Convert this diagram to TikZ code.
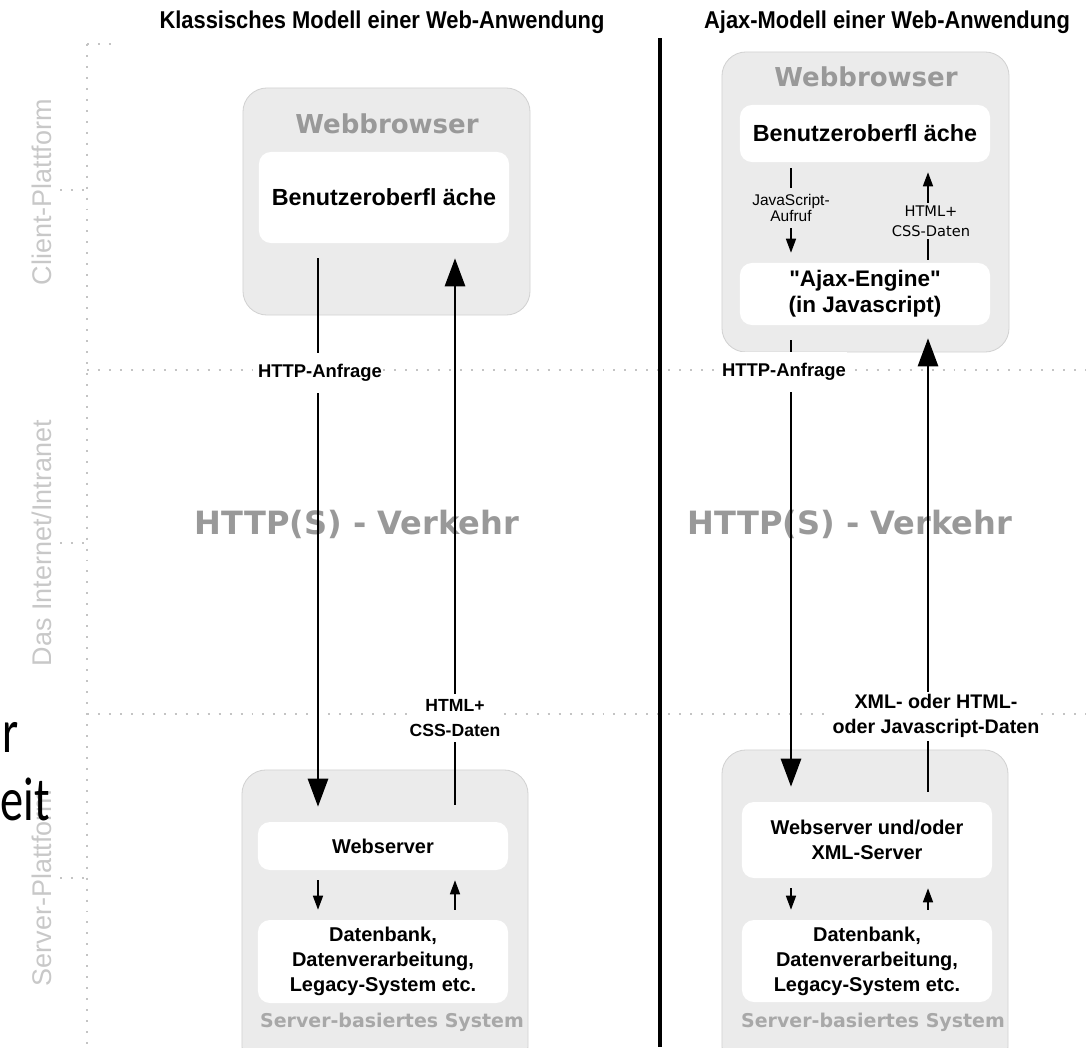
\documentclass[tikz,border=0pt]{standalone}
\usepackage{fontspec}
\setmainfont{Liberation Sans}
\newfontfamily\verdfont{DejaVu Sans}
\newfontfamily\headfont[FakeStretch=0.9]{Liberation Sans}
\newfontfamily\calfont[FakeStretch=0.75]{Carlito}
\usetikzlibrary{arrows.meta}

\definecolor{panelgray}{HTML}{EBEBEB}
\definecolor{paneledge}{HTML}{D2D2D2}
\definecolor{titlegray}{HTML}{999999}
\definecolor{systemgray}{HTML}{A8A8A8}
\definecolor{dotgray}{HTML}{C4C4C4}
\definecolor{sidegray}{HTML}{C8C8C8}

\tikzset{
  outerbox/.style={draw=paneledge, fill=panelgray, line width=0.6pt, rounded corners=0.6cm},
  innerbox/.style={fill=white, rounded corners=0.3cm, align=center, inner sep=0pt,
    minimum width=6.25cm, font=\bfseries\fontsize{14.2}{17.8}\selectfont},
  panelname/.style={text=titlegray, font=\verdfont\bfseries\fontsize{18.5}{22}\selectfont},
  systemname/.style={text=systemgray, font=\verdfont\bfseries\fontsize{13.5}{16}\selectfont},
  traffic/.style={text=titlegray, font=\verdfont\bfseries\fontsize{22.8}{27}\selectfont},
  heading/.style={anchor=base, font=\headfont\bfseries\fontsize{17.3}{20}\selectfont},
  sidename/.style={rotate=90, text=sidegray, font=\fontsize{19.2}{22}\selectfont},
  fragment/.style={anchor=base west, inner sep=0pt, font=\calfont\fontsize{44}{52}\selectfont},
  flowlabel/.style={fill=white, align=center, inner xsep=1pt, inner ysep=4pt,
    font=\bfseries\fontsize{13.1}{18}\selectfont},
  bigarrow/.style={line width=2pt, -{Triangle[length=0.7cm, width=0.5cm]},
    shorten <=0.375cm, shorten >=0.375cm},
  smallarrow/.style={line width=1.1pt, -{Triangle[length=0.35cm, width=0.25cm]},
    shorten <=0.25cm, shorten >=0.25cm},
  gridline/.style={dotgray, line width=1.4pt, dash pattern=on 1.4pt off 6.4pt},
}

\begin{document}
\begin{tikzpicture}[x=0.025cm, y=-0.025cm]
\useasboundingbox (0,0) rectangle (1086,1047);
\clip (0,0) rectangle (1086,1047);

\def \xgrid {87};
\def \ylayerA {370};
\def \ylayerB {714};

% layers
\draw[gridline] (\xgrid,44) -- (\xgrid,1047);
\draw[gridline] (\xgrid,44) -- (118,44);
\draw[gridline] (\xgrid,\ylayerA) -- (1086,\ylayerA);
\draw[gridline] (\xgrid,\ylayerB) -- (1086,\ylayerB);
\foreach \ytick in {190,543,878}
  \draw[gridline] (60,\ytick) -- (\xgrid,\ytick);

\node[sidename] (client) at (42,192) {Client-Plattform};
\node[sidename] (net) at (42,543) {Das Internet/Intranet};
\node[sidename] (server) at (42,888) {Server-Plattform};

\node[fragment] (frag1) at (2,752) {r};
\node[fragment] (frag2) at (0,820) {eit};

\node[heading] (classic) at (382,28) {Klassisches Modell einer Web-Anwendung};
\node[heading] (ajax) at (887,28) {Ajax-Modell einer Web-Anwendung};
\draw[line width=2.6pt] (660,38) -- (660,1047);

% classic model
\node[outerbox, minimum width=7.175cm, minimum height=5.675cm] (lbrowser) at (386.5,201.5) {};
\node[panelname] (lbrowsername) at (387,124) {Webbrowser};
\node[innerbox, minimum height=2.275cm, font=\bfseries\fontsize{16.6}{20}\selectfont] (lui) at (384,197.5) {Benutzeroberfl äche};

\node[outerbox, minimum width=7.15cm, minimum height=7.5cm] (lsystem) at (385,920) {};
\node[innerbox, minimum height=1.2cm] (lws) at (383,846) {Webserver};
\node[innerbox, minimum height=2.075cm] (ldb) at (383,961.5) {Datenbank,\\Datenverarbeitung,\\ Legacy-System etc.};
\node[systemname] (lsystemname) at (392,1022) {Server-basiertes System};

% ajax model
\node[outerbox, minimum width=7.175cm, minimum height=7.5cm] (rbrowser) at (865.5,202) {};
\node[panelname] (rbrowsername) at (866,77) {Webbrowser};
\node[innerbox, minimum height=1.425cm, font=\bfseries\fontsize{16.6}{20}\selectfont] (rui) at (865,133.5) {Benutzeroberfl äche};
\node[innerbox, minimum height=1.55cm, font=\bfseries\fontsize{16}{18.5}\selectfont] (rengine) at (865,294) {\textquotedbl Ajax-Engine\textquotedbl\\(in Javascript)};

\node[outerbox, minimum width=7.15cm, minimum height=8cm] (rsystem) at (865,910) {};
\node[innerbox, minimum height=1.9cm] (rws) at (867,840) {Webserver und/oder\\XML-Server};
\node[innerbox, minimum height=2.05cm] (rdb) at (867,961) {Datenbank,\\Datenverarbeitung,\\ Legacy-System etc.};
\node[systemname] (rsystemname) at (873,1022) {Server-basiertes System};

\node[traffic] (ltraffic) at (357,524) {HTTP(S) - Verkehr};
\node[traffic] (rtraffic) at (850,524) {HTTP(S) - Verkehr};

% lanes
\coordinate (lreq) at (318,373);
\coordinate (lresp) at (455,718);
\coordinate (rreq) at (791,370);
\coordinate (rresp) at (928,716);
\coordinate (jslane) at (791,207);
\coordinate (csslane) at (928,221);

\draw[bigarrow] (lui.south -| lreq) -- (lws.north -| lreq);
\draw[bigarrow, shorten <=0.425cm] (lws.north -| lresp) -- (lui.south -| lresp);
\draw[bigarrow] (rengine.south -| rreq) -- (rws.north -| rreq);
\draw[bigarrow, shorten <=0.25cm, shorten >=0.325cm] (rws.north -| rresp) -- (rengine.south -| rresp);

\draw[smallarrow] (lws.south -| lreq) -- (ldb.north -| lreq);
\draw[smallarrow] (ldb.north -| lresp) -- (lws.south -| lresp);
\draw[smallarrow] (rws.south -| rreq) -- (rdb.north -| rreq);
\draw[smallarrow] (rdb.north -| rresp) -- (rws.south -| rresp);
\draw[smallarrow, shorten <=0.15cm] (rui.south -| jslane) -- (rengine.north -| jslane);
\draw[smallarrow, shorten <=0.075cm] (rengine.north -| csslane) -- (rui.south -| csslane);

% labels
\node[flowlabel, inner ysep=8pt] (lreqtext) at (320,373) {HTTP-Anfrage};
\node[flowlabel, font=\bfseries\fontsize{12.5}{18}\selectfont] (lresptext) at (455,718) {HTML+\\CSS-Daten};
\node[flowlabel, inner ysep=8pt] (rreqtext) at (784,372) {HTTP-Anfrage};
\node[flowlabel, inner ysep=2pt, font=\bfseries\fontsize{14}{17.8}\selectfont] (rresptext) at (936,716) {XML- oder HTML-\\oder Javascript-Daten};
\node[flowlabel, fill=panelgray, font=\fontsize{11}{12}\selectfont] (jstext) at (791,208) {JavaScript-\\Aufruf};
\node[flowlabel, fill=panelgray, inner ysep=2pt, font=\verdfont\fontsize{10.4}{14}\selectfont] (csstext) at (931,221) {HTML+\\CSS-Daten};

\end{tikzpicture}
\end{document}
